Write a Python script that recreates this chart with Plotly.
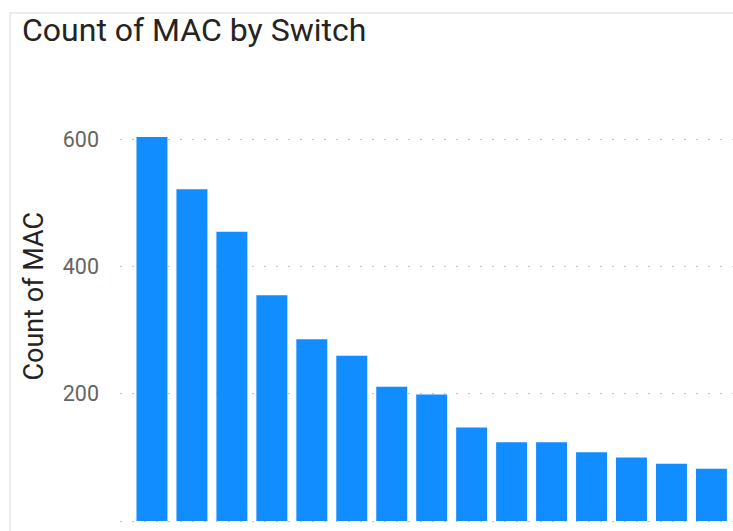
import plotly.graph_objects as go

# MAC address counts per switch, sorted descending
switches = ["SW-01", "SW-02", "SW-03", "SW-04", "SW-05", "SW-06", "SW-07", "SW-08",
            "SW-09", "SW-10", "SW-11", "SW-12", "SW-13", "SW-14", "SW-15"]
mac_counts = [604, 522, 455, 355, 286, 260, 211, 199, 147, 124, 124, 108, 100, 90, 82]
y_ticks = [0, 200, 400, 600]

W, H = 733, 531
ML, MR, MT, MB = 120, 0, 100, 0

fig = go.Figure(
    go.Bar(
        x=switches,
        y=mac_counts,
        marker=dict(color="#118DFF", line=dict(width=0)),
        hoverinfo="x+y",
    )
)

plot_w = W - ML - MR
plot_h = H - MT - MB

fig.update_layout(
    width=W,
    height=H,
    margin=dict(l=ML, r=MR, t=MT, b=MB, pad=0),
    paper_bgcolor="white",
    plot_bgcolor="white",
    bargap=0.225,
    showlegend=False,
    font=dict(family="Roboto, 'Open Sans', sans-serif", color="#605E5C"),
    title=dict(
        text="Count of MAC by Switch",
        font=dict(family="Roboto, sans-serif", size=32, color="#252423"),
        x=22 / W,
        xanchor="left",
        xref="container",
        y=1 - 19 / H,
        yanchor="top",
        yref="container",
    ),
    xaxis=dict(
        type="category",
        range=[-0.80, 14.54],
        showticklabels=False,
        showgrid=False,
        zeroline=False,
        showline=False,
        ticks="",
        fixedrange=True,
    ),
    yaxis=dict(
        range=[-15.73, 662.2],
        tickvals=y_ticks,
        ticktext=[str(v) for v in y_ticks],
        tickfont=dict(size=21.5, color="#666462"),
        ticklabelstandoff=20,
        showgrid=True,
        gridcolor="#C8C6C4",
        gridwidth=1,
        griddash="2px,10px",
        zeroline=False,
        showline=False,
        ticks="",
        fixedrange=True,
    ),
    annotations=[
        # y-axis title
        dict(
            text="Count of MAC",
            textangle=-90,
            xref="paper",
            yref="paper",
            x=(33 - ML) / plot_w,
            y=(H - 296.5 - MB) / plot_h,
            xanchor="center",
            yanchor="middle",
            showarrow=False,
            font=dict(family="Roboto, sans-serif", size=27, color="#252423"),
        )
    ],
    shapes=[
        # light card border around the visual
        dict(
            type="rect",
            xref="paper",
            yref="paper",
            x0=(10 - ML) / plot_w,
            x1=1.2,
            y0=-0.2,
            y1=(H - 13 - MB) / plot_h,
            line=dict(color="#E6E6E6", width=1.5),
            fillcolor="rgba(0,0,0,0)",
            layer="below",
        )
    ],
)

fig.write_html("out.html")
